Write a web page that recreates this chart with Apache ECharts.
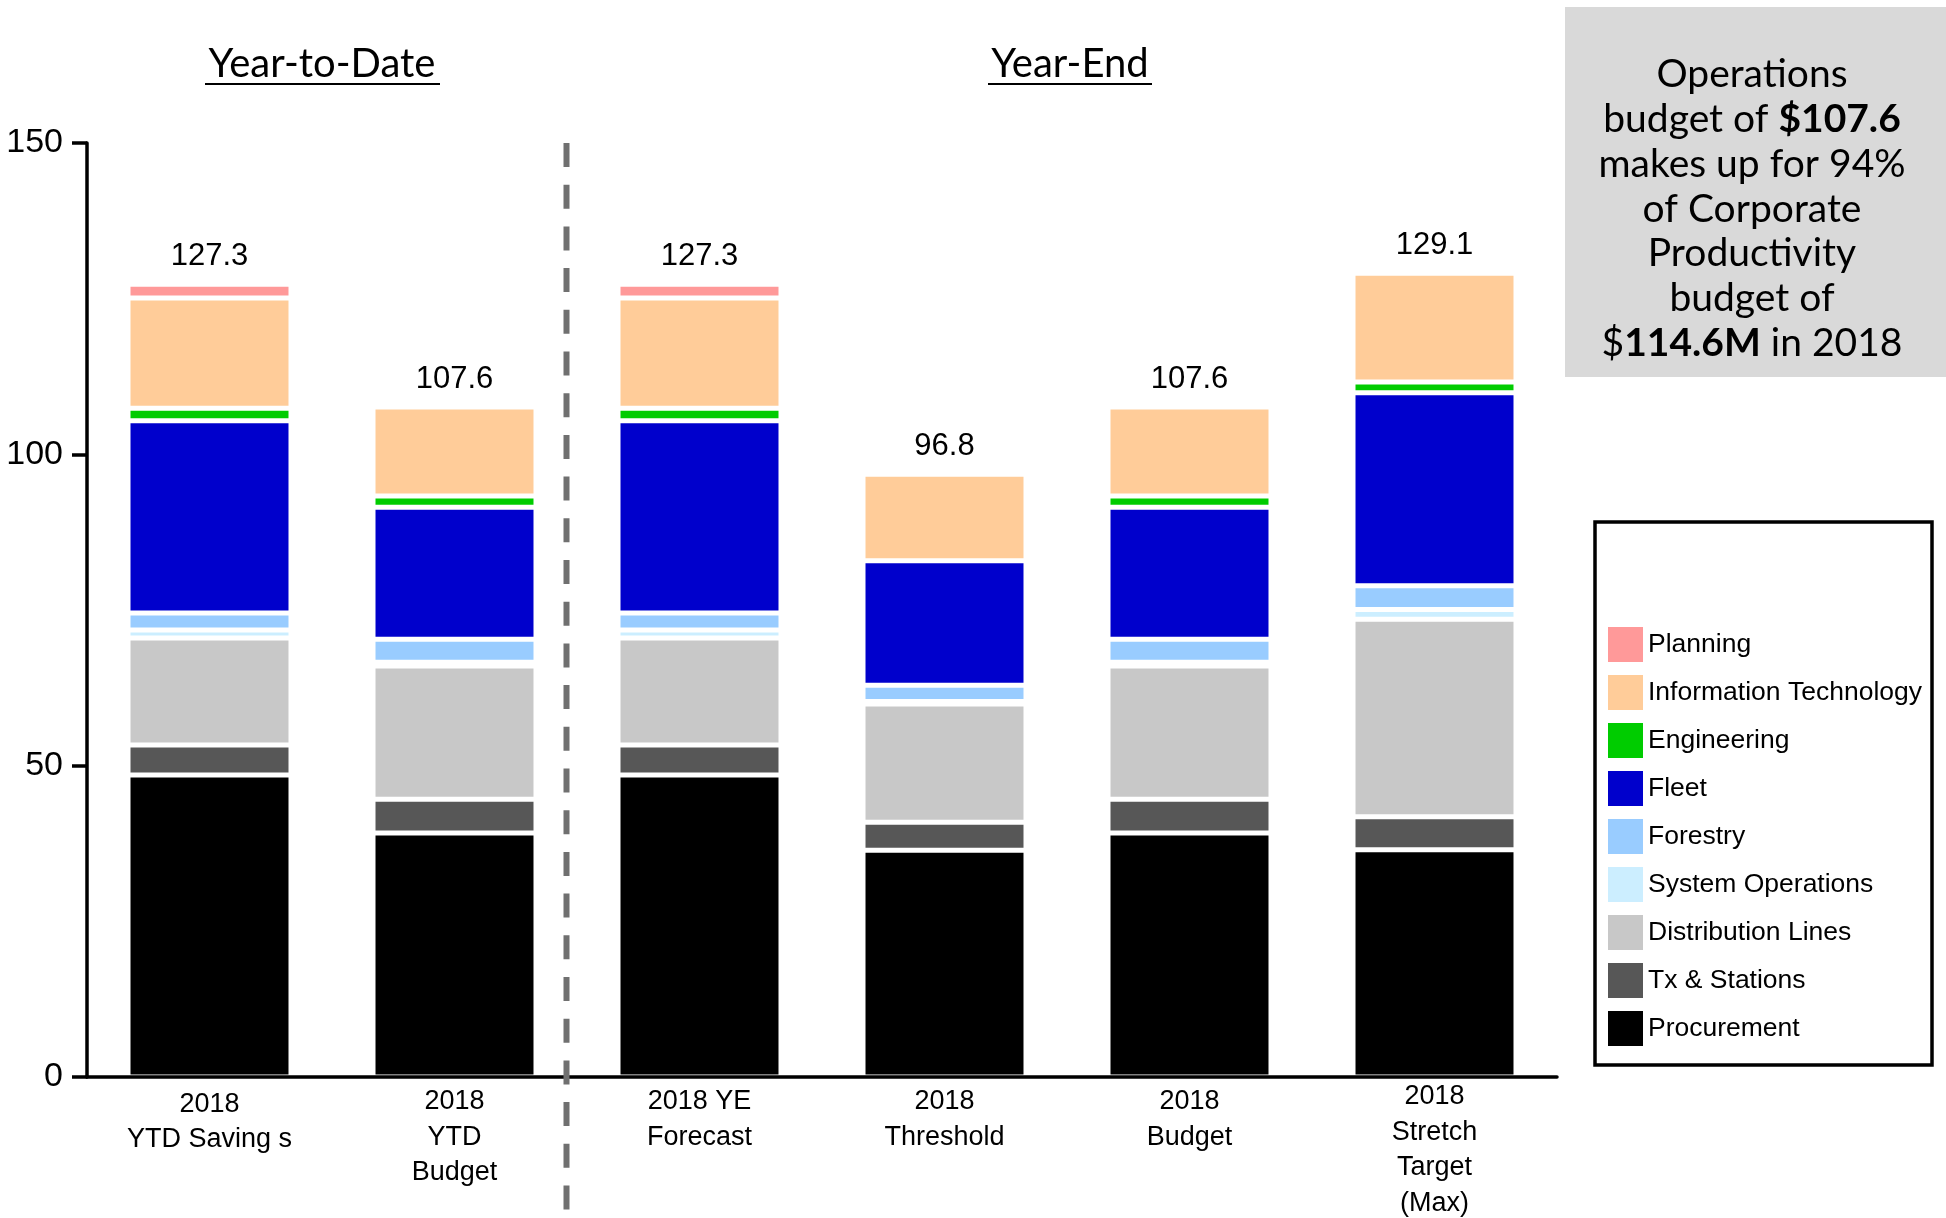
<!DOCTYPE html>
<html>
<head>
<meta charset="utf-8">
<script src="https://cdn.jsdelivr.net/npm/echarts@6/dist/echarts.min.js"></script>
<style>
  html, body { margin: 0; padding: 0; background: #ffffff; }
  #chart { width: 1946px; height: 1218px; }
</style>
</head>
<body>
<div id="chart"></div>
<script>
// ---- data ----
const categories = ['2018\nYTD Saving s', '2018\nYTD\nBudget', '2018 YE\nForecast', '2018\nThreshold', '2018\nBudget', '2018\nStretch\nTarget\n(Max)'];
const procurement  = [48.5, 39.2, 48.5, 36.4, 39.2, 36.5];
const txStations   = [4.8, 5.4, 4.8, 4.5, 5.4, 5.3];
const distribution = [17.2, 21.4, 17.2, 19.0, 21.4, 31.7];
const sysOps       = [1.3, 0.6, 1.3, 0.4, 0.6, 1.6];
const forestry     = [2.7, 3.7, 2.7, 2.6, 3.7, 3.8];
const fleet        = [30.9, 21.2, 30.9, 20.0, 21.2, 31.0];
const engineering  = [2.0, 1.8, 2.0, null, 1.8, 1.7];
const infoTech     = [17.7, 14.3, 17.7, 13.9, 14.3, 17.5];
const planning     = [2.2, null, 2.2, null, null, null];
const totals       = [127.3, 107.6, 127.3, 96.8, 107.6, 129.1];
const yTicks       = [0, 50, 100, 150];

// small per-label vertical offsets seen in the reference's category labels
const labelTopPad  = [7.5, 5, 5, 5, 5, 0];

const seriesDefs = [
  { name: 'Procurement', data: procurement, color: '#000000' },
  { name: 'Tx & Stations', data: txStations, color: '#575757' },
  { name: 'Distribution Lines', data: distribution, color: '#c8c8c8' },
  { name: 'System Operations', data: sysOps, color: '#cceeff' },
  { name: 'Forestry', data: forestry, color: '#99ccff' },
  { name: 'Fleet', data: fleet, color: '#0000cc' },
  { name: 'Engineering', data: engineering, color: '#00cc00' },
  { name: 'Information Technology', data: infoTech, color: '#ffcc99' },
  { name: 'Planning', data: planning, color: '#ff9999' }
];

const chart = echarts.init(document.getElementById('chart'), null, { renderer: 'canvas' });

const sans = "'Liberation Sans', Arial, sans-serif";
const gothic = "Lato, 'Open Sans', sans-serif";

const series = seriesDefs.map(s => ({
  name: s.name,
  type: 'bar',
  stack: 'total',
  barWidth: 163,
  data: s.data,
  itemStyle: { color: s.color, borderColor: '#ffffff', borderWidth: 2.5 },
  emphasis: { disabled: true }
}));

series.push({
  name: 'Total',
  type: 'scatter',
  data: totals,
  symbol: 'circle',
  symbolSize: 2,
  itemStyle: { color: 'rgba(0,0,0,0)', opacity: 1 },
  silent: true,
  z: 10,
  label: {
    show: true,
    position: 'top',
    distance: 11.5,
    fontFamily: sans,
    fontSize: 31,
    color: '#000000',
    opacity: 1
  }
});

const option = {
  animation: false,
  backgroundColor: '#ffffff',
  grid: { left: 87, right: 389, top: 143, bottom: 141, containLabel: false, outerBoundsMode: 'none' },
  xAxis: {
    type: 'category',
    data: categories.map((c, i) => ({ value: c, textStyle: { padding: [labelTopPad[i], 0, 0, 0] } })),
    z: 5,
    axisLine: { show: true, lineStyle: { color: '#000000', width: 3.5 } },
    axisTick: { show: false },
    axisLabel: {
      interval: 0,
      margin: 2,
      fontFamily: sans,
      fontSize: 27,
      lineHeight: 35.6,
      color: '#000000',
      verticalAlign: 'top'
    }
  },
  yAxis: {
    type: 'value',
    min: yTicks[0],
    max: yTicks[yTicks.length - 1],
    interval: 50,
    z: 5,
    axisLine: { show: true, lineStyle: { color: '#000000', width: 3.5 } },
    axisTick: { show: true, length: 15, lineStyle: { color: '#000000', width: 3.5 } },
    splitLine: { show: false },
    axisLabel: { margin: 24, fontFamily: sans, fontSize: 34, color: '#000000' }
  },
  legend: {
    orient: 'vertical',
    left: 1608,
    top: 627,
    padding: 0,
    itemWidth: 35,
    itemHeight: 35,
    itemGap: 13,
    icon: 'rect',
    data: seriesDefs.map(s => s.name).reverse(),
    itemStyle: { borderWidth: 0 },
    textStyle: { fontFamily: sans, fontSize: 26.5, color: '#000000' },
    selectedMode: false
  },
  graphic: [
    {
      type: 'rect', z: 0,
      shape: { x: 1565, y: 7, width: 381, height: 370 },
      style: { fill: '#d9d9d9' }
    },
    {
      type: 'text', z: 1,
      x: 1752, y: 209,
      style: {
        text: 'Operations\n{n|budget of }{b|$107.6}\nmakes up for 94%\nof Corporate\nProductivity\nbudget of\n{n|$}{b|114.6M}{n| in 2018}',
        align: 'center',
        verticalAlign: 'middle',
        fontFamily: gothic,
        fontSize: 39,
        lineHeight: 44.8,
        fill: '#000000',
        rich: {
          n: { fontFamily: gothic, fontSize: 39, lineHeight: 44.8, fill: '#000000' },
          b: { fontFamily: gothic, fontSize: 39, lineHeight: 44.8, fontWeight: 'bold', fill: '#000000' }
        }
      }
    },
    {
      type: 'rect', z: 0,
      shape: { x: 1595, y: 522, width: 337, height: 543 },
      style: { fill: 'none', stroke: '#000000', lineWidth: 3.5 }
    },
    {
      type: 'text', z: 1,
      x: 322, y: 64,
      style: { text: 'Year-to-Date', align: 'center', verticalAlign: 'middle', fontFamily: gothic, fontSize: 40, fill: '#000000' }
    },
    {
      type: 'line', z: 1,
      shape: { x1: 205, y1: 84, x2: 440, y2: 84 },
      style: { stroke: '#000000', lineWidth: 2 }
    },
    {
      type: 'text', z: 1,
      x: 1070, y: 64,
      style: { text: 'Year-End', align: 'center', verticalAlign: 'middle', fontFamily: gothic, fontSize: 40, fill: '#000000' }
    },
    {
      type: 'line', z: 1,
      shape: { x1: 988, y1: 84, x2: 1152, y2: 84 },
      style: { stroke: '#000000', lineWidth: 2 }
    },
    {
      type: 'line', z: 20,
      shape: { x1: 566.5, y1: 143, x2: 566.5, y2: 1212 },
      style: { stroke: '#707070', lineWidth: 6, lineDash: [24, 17.7] }
    }
  ],
  series: series
};

chart.setOption(option);
</script>
</body>
</html>
